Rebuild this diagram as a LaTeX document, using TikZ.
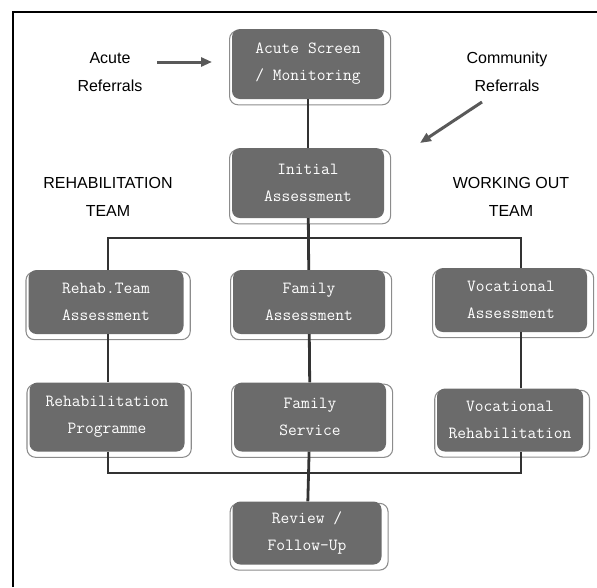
\documentclass[tikz,border=0pt]{standalone}
\usepackage{fontspec}
\setmainfont{Liberation Sans}
\newfontfamily\boxfont{Latin Modern Mono}
\usetikzlibrary{arrows.meta,shadows}
\tikzset{stage/.style={rounded corners=8, fill=black!58, text=white, inner sep=0pt, minimum width=152, minimum height=70, align=center, font=\boxfont\fontsize{17}{27}\selectfont, general shadow={fill=white, draw=black!45, line width=1pt, shadow xshift=2pt, shadow yshift=-3.5pt, shadow scale=1.06}}}
\tikzset{lbl/.style={align=center, font=\fontsize{16}{28}\selectfont}}
\tikzset{link/.style={draw=black!80, line width=2.8pt}}
\tikzset{arr/.style={draw=black!65, line width=3pt, -{Triangle[length=11pt,width=9pt]}}}

\begin{document}
\begin{tikzpicture}[x=1pt,y=-1pt]
		\useasboundingbox (0,0) rectangle (597,587);
		\draw[line width=2pt] (13,587) -- (13,12) -- (597,12);

		\node[stage] (screen) at (308,64){Acute Screen\\/ Monitoring};
		\node[stage] (initial) at (308,183){Initial\\Assessment};

		\node[stage, minimum width=155, minimum height=64] (rehabA) at (106,302){Rehab.Team\\Assessment};
		\node[stage, minimum height=64] (famA) at (309,302){Family\\Assessment};
		\node[stage, minimum height=64] (vocA) at (511,300){Vocational\\Assessment};

		\node[stage, minimum width=155, minimum height=69] (rehabP) at (107,417){Rehabilitation\\Programme};
		\node[stage, minimum height=69] (famS) at (310,417){Family\\Service};
		\node[stage, minimum width=146, minimum height=63] (vocR) at (510,420){Vocational\\Rehabilitation};

		\node[stage, minimum width=149, minimum height=63] (review) at (307,533){Review /\\Follow-Up};

		\node[lbl] (acute) at (110,72){Acute\\Referrals};
		\node[lbl] (community) at (507,72){Community\\Referrals};
		\node[lbl] (rehabTeam) at (108,197){REHABILITATION\\TEAM};
		\node[lbl] (workTeam) at (511,197){WORKING OUT\\TEAM};

		\coordinate (topL) at (108,238);
		\coordinate (topR) at (521,238);
		\coordinate (botL) at (108,473);
		\coordinate (botR) at (521,473);

		\draw[link] (screen) -- (initial);
		\draw[link] (initial) -- (famA);
		\draw[link] (topL |- rehabA.north) -- (topL) -- (topR) -- (topR |- vocA.north);
		\draw[link] (rehabA.south -| topL) -- (rehabP.north -| topL);
		\draw[link] (famA) -- (famS);
		\draw[link] (vocA.south -| topR) -- (vocR.north -| topR);
		\draw[link] (rehabP.south -| botL) -- (botL) -- (botR) -- (vocR.south -| botR);
		\draw[link] (famS) -- (review);

		% referral arrows
		\coordinate (acuteTail) at (157,62);
		\coordinate (acuteHead) at (212,62);
		\coordinate (commTail) at (482,102);
		\coordinate (commHead) at (420,143);
		\draw[arr] (acuteTail) -- (acuteHead);
		\draw[arr] (commTail) -- (commHead);
	\end{tikzpicture}
\end{document}
